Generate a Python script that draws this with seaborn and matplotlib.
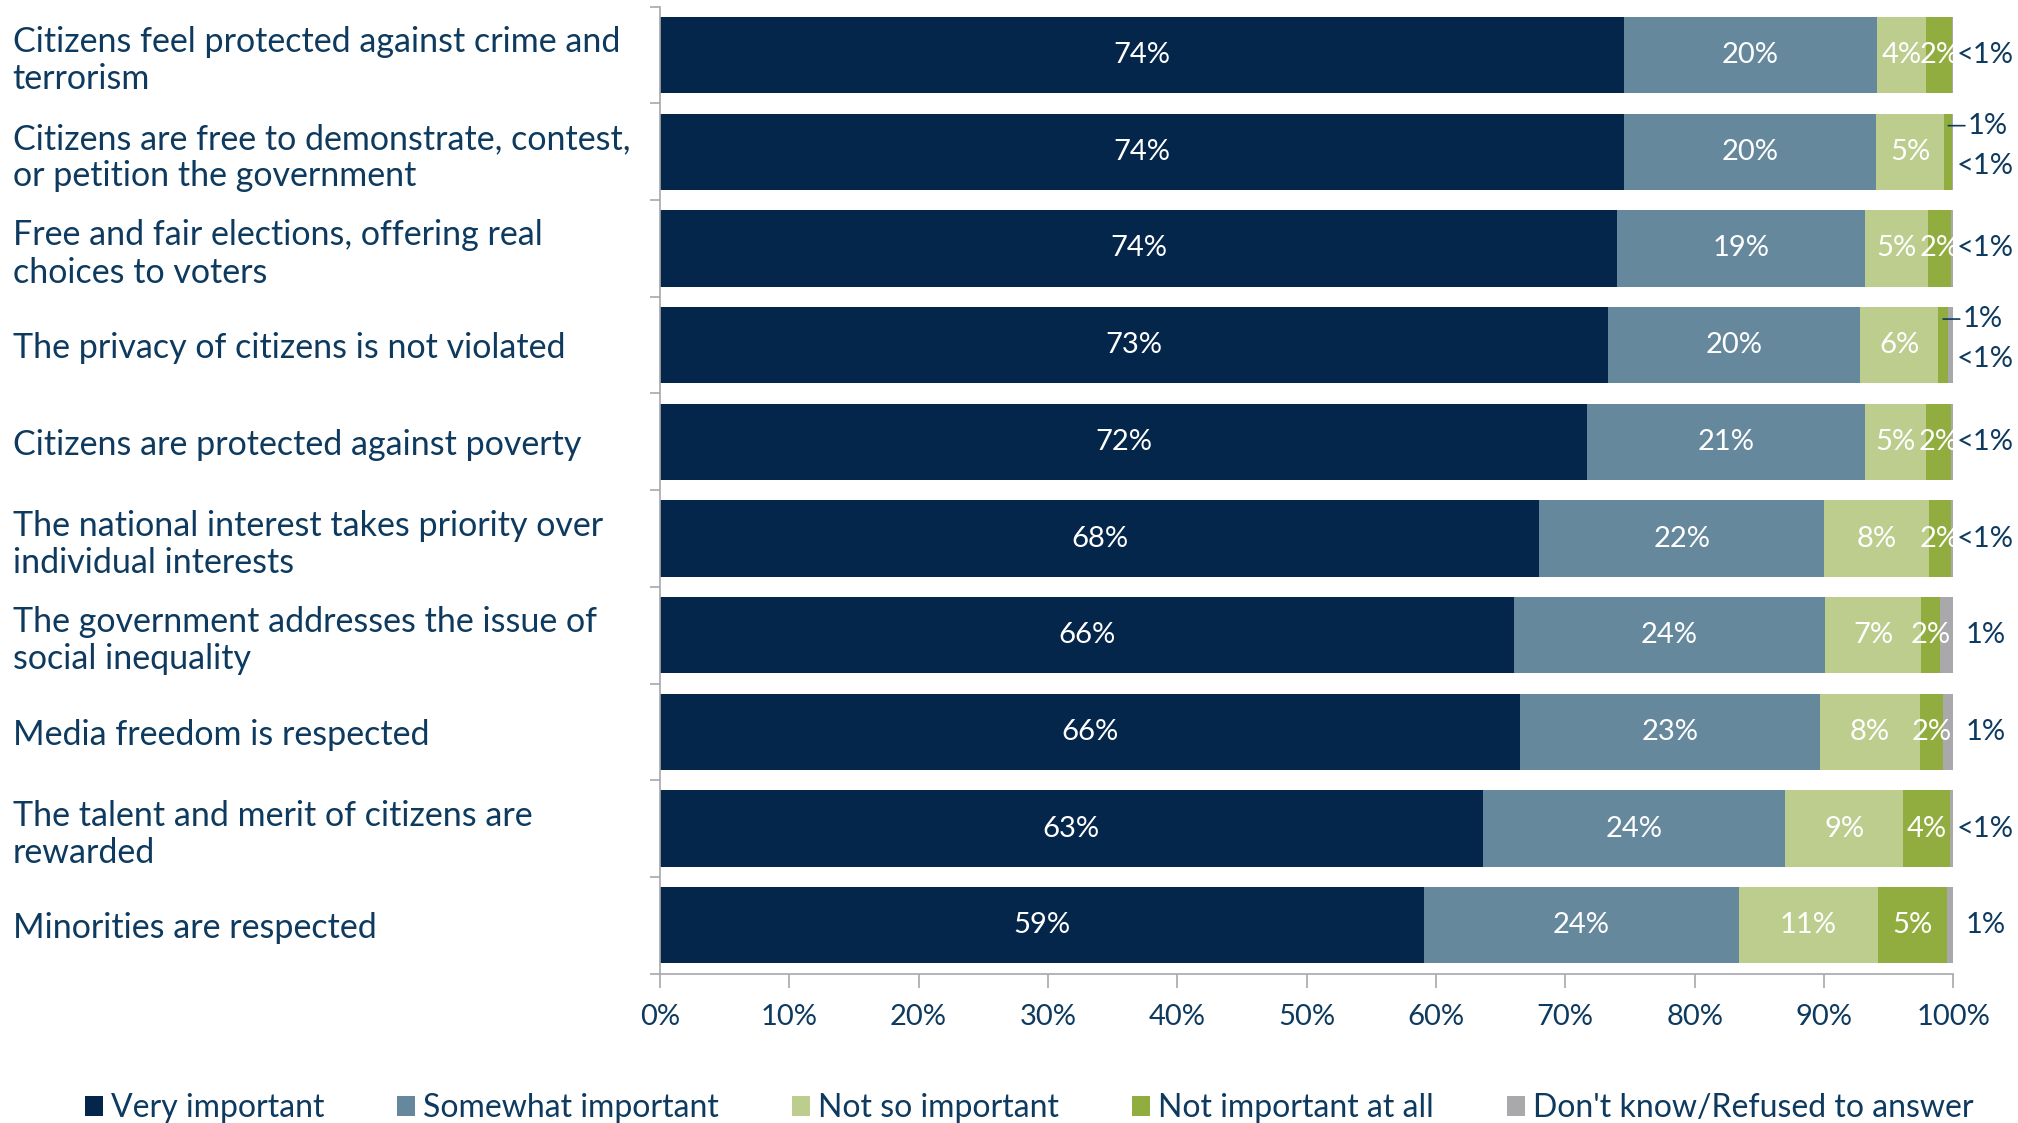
import numpy as np
import pandas as pd
import matplotlib
matplotlib.use("Agg")
import matplotlib.pyplot as plt
from matplotlib.patches import Patch
import seaborn as sns

categories = [
    "Citizens feel protected against crime and\nterrorism",
    "Citizens are free to demonstrate, contest,\nor petition the government",
    "Free and fair elections, offering real\nchoices to voters",
    "The privacy of citizens is not violated",
    "Citizens are protected against poverty",
    "The national interest takes priority over\nindividual interests",
    "The government addresses the issue of\nsocial inequality",
    "Media freedom is respected",
    "The talent and merit of citizens are\nrewarded",
    "Minorities are respected",
]
series_names = ["Very important", "Somewhat important", "Not so important",
                "Not important at all", "Don't know/Refused to answer"]

very = [74.5, 74.5, 74.0, 73.3, 71.7, 68.0, 66.0, 66.5, 63.6, 59.1]
somewhat = [19.6, 19.5, 19.2, 19.5, 21.5, 22.0, 24.1, 23.2, 23.4, 24.3]
not_so = [3.8, 5.3, 4.8, 6.0, 4.7, 8.1, 7.4, 7.7, 9.1, 10.8]
not_at_all = [2.0, 0.6, 1.8, 0.8, 1.9, 1.7, 1.5, 1.8, 3.6, 5.3]
dont_know = [0.1, 0.1, 0.2, 0.4, 0.2, 0.2, 1.0, 0.8, 0.3, 0.5]

lbl_very = ["74%", "74%", "74%", "73%", "72%", "68%", "66%", "66%", "63%", "59%"]
lbl_somewhat = ["20%", "20%", "19%", "20%", "21%", "22%", "24%", "23%", "24%", "24%"]
lbl_not_so = ["4%", "5%", "5%", "6%", "5%", "8%", "7%", "8%", "9%", "11%"]
lbl_not_at_all = ["2%", "1%", "2%", "1%", "2%", "2%", "2%", "2%", "4%", "5%"]
lbl_dont_know = ["<1%", "<1%", "<1%", "<1%", "<1%", "<1%", "1%", "1%", "<1%", "1%"]

colors = ["#05264b", "#66889c", "#bccd8e", "#91ad3f", "#a9a9ab"]
navy = "#0d3a5e"
grey = "#a6a8ab"

plt.rcParams["font.family"] = ["Lato", "DejaVu Sans"]

df = pd.DataFrame({"category": categories, series_names[0]: very,
                   series_names[1]: somewhat, series_names[2]: not_so,
                   series_names[3]: not_at_all, series_names[4]: dont_know})
cum = df[series_names].cumsum(axis=1)

fig, ax = plt.subplots(figsize=(20.18, 11.23), dpi=100)
fig.subplots_adjust(left=0.327, right=0.968, top=0.994, bottom=0.133)

# stacked bars: draw the cumulative totals from the outermost layer inwards
for name, col in reversed(list(zip(series_names, colors))):
    sns.barplot(x=cum[name], y=df["category"], orient="h", color=col,
                saturation=1, width=0.79, errorbar=None, linewidth=0, ax=ax)

inside = [(series_names[0], lbl_very), (series_names[1], lbl_somewhat),
          (series_names[2], lbl_not_so), (series_names[3], lbl_not_at_all)]
for name, labels in inside:
    mids = cum[name] - df[name] / 2
    for i, (m, v, t) in enumerate(zip(mids, df[name], labels)):
        if v < 1:
            # small segment: callout line to a label above the bar end
            ax.annotate(t, xy=(m, i - 0.27), xytext=(14, 0), textcoords="offset points",
                        ha="left", va="center", fontsize=21, color=navy,
                        arrowprops=dict(arrowstyle="-", color=navy, lw=1.2,
                                        shrinkA=0, shrinkB=0))
        else:
            ax.text(m, i, t, ha="center", va="center", fontsize=21, color="white")

for i, (end, t) in enumerate(zip(cum[series_names[4]], lbl_dont_know)):
    dy = -10 if not_at_all[i] < 1 else 0
    ax.annotate(t, xy=(end, i), xytext=(23, dy), textcoords="offset points",
                ha="center", va="center", fontsize=21, color=navy)

ax.set_xlim(0, 100)
ax.set_xticks(np.arange(0, 101, 10))
ax.set_xticklabels([f"{v}%" for v in range(0, 101, 10)])
ax.set_xlabel("")
ax.set_ylabel("")
ax.tick_params(axis="x", colors=grey, labelcolor=navy, labelsize=21, length=10, width=1.2, pad=12)
ax.set_yticks(range(len(categories)))
ax.set_yticklabels(categories, ha="left")
ax.tick_params(axis="y", which="major", length=0, labelsize=24.5, labelcolor=navy, pad=466)
ax.set_yticks(np.arange(-0.5, len(categories), 1), minor=True)
ax.tick_params(axis="y", which="minor", length=7, width=1.2, color=grey, left=True)
for s in ["top", "right"]:
    ax.spines[s].set_visible(False)
for s in ["left", "bottom"]:
    ax.spines[s].set_color(grey)
    ax.spines[s].set_linewidth(1.2)

handles = [Patch(facecolor=c, edgecolor="none") for c in colors]
fig.legend(handles, series_names, loc="center", bbox_to_anchor=(0.51, 0.013), ncol=5,
           frameon=False, fontsize=23, handlelength=0.55, handleheight=0.55,
           handletextpad=0.25, columnspacing=2.3, labelcolor=navy)

fig.savefig("out.png", dpi=100)
